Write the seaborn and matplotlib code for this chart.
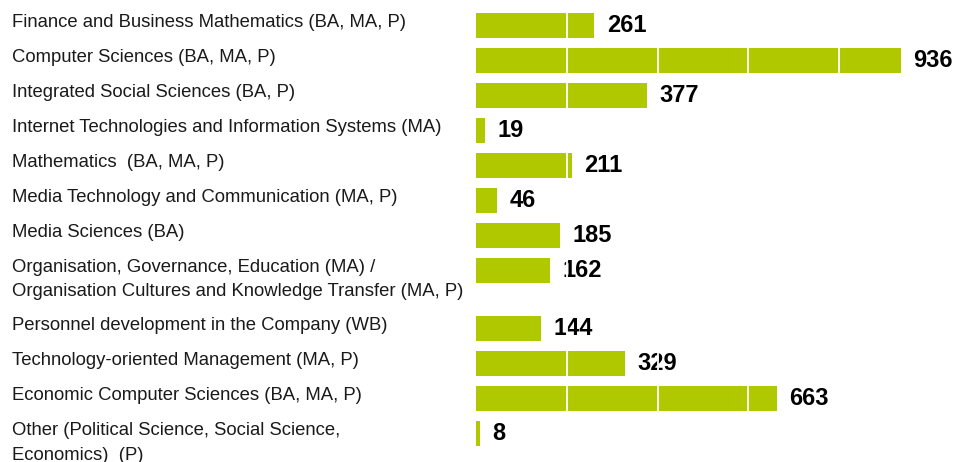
import numpy as np
import seaborn as sns
import matplotlib.pyplot as plt
from matplotlib.transforms import blended_transform_factory

sns.set_style('white')
plt.rcParams['font.family'] = ['Liberation Sans', 'DejaVu Sans']

programmes = [
    'Finance and Business Mathematics (BA, MA, P)',
    'Computer Sciences (BA, MA, P)',
    'Integrated Social Sciences (BA, P)',
    'Internet Technologies and Information Systems (MA)',
    'Mathematics  (BA, MA, P)',
    'Media Technology and Communication (MA, P)',
    'Media Sciences (BA)',
    'Organisation, Governance, Education (MA) /\nOrganisation Cultures and Knowledge Transfer (MA, P)',
    'Personnel development in the Company (WB)',
    'Technology-oriented Management (MA, P)',
    'Economic Computer Sciences (BA, MA, P)',
    'Other (Political Science, Social Science,\nEconomics)  (P)',
]
students = [261, 936, 377, 19, 211, 46, 185, 162, 144, 329, 663, 8]

green = '#b0c800'

# row positions: one row per programme, extra room after two-line labels
pos = []
y = 0.0
for lab in programmes:
    pos.append(y)
    y += 1 + 0.67 * lab.count('\n')
pos = np.array(pos)

fig = plt.figure(figsize=(9.58, 4.62), dpi=100)
ax = fig.add_axes([476 / 958, 0, 482 / 958, 1])

sns.barplot(x=students, y=pos, orient='h', native_scale=True, color=green,
            saturation=1, width=25 / 35, ax=ax, linewidth=0)

ax.set_xlim(0, 482 / 0.454)
ax.set_ylim((462 - 25.5) / 35, -25.5 / 35)
ax.axis('off')

for v, p in zip(students, pos):
    ax.annotate(str(v), (v, p), xytext=(9, 0), textcoords='offset points',
                va='center', ha='left', fontsize=17, fontweight='bold', color='black')

trans = blended_transform_factory(fig.transFigure, ax.transData)
for lab, p in zip(programmes, pos):
    ax.text(12 / 958, p - 0.33, lab, transform=trans, ha='left', va='top',
            fontsize=13.3, color='#1a1a1a', linespacing=1.58, clip_on=False)

for gx in range(200, 1000, 200):
    ax.axvline(gx, color='white', lw=1.3, zorder=10)

fig.savefig('out.png', dpi=100)
